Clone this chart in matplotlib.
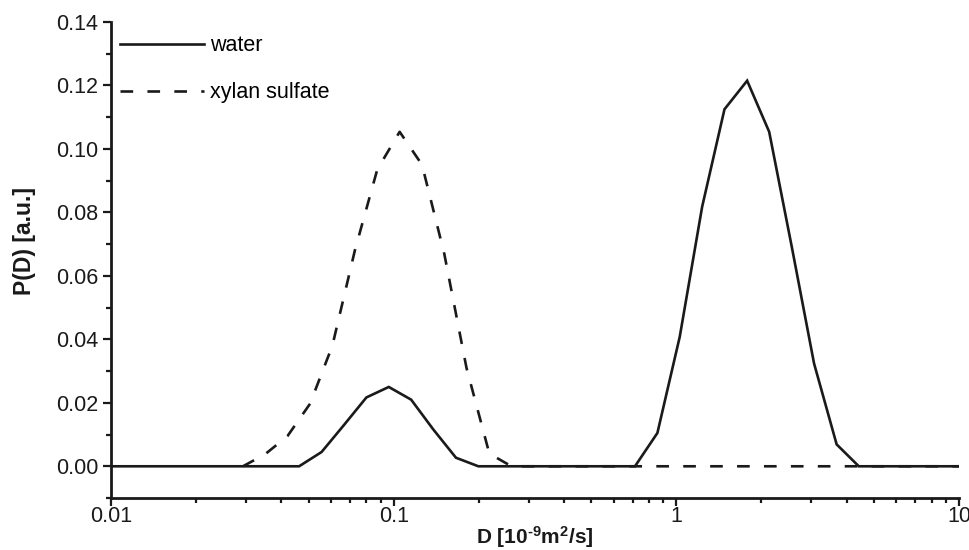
"""
Diffusion coefficient distribution P(D): water vs. xylan sulfate.
"""

import matplotlib
matplotlib.use("Agg")
import matplotlib.pyplot as plt
from matplotlib.ticker import FixedLocator, LogLocator, MultipleLocator, NullFormatter

plt.rcParams['font.family'] = ['Liberation Sans', 'DejaVu Sans']
plt.rcParams['mathtext.fontset'] = 'custom'
plt.rcParams['mathtext.rm'] = 'Liberation Sans:bold'
plt.rcParams['mathtext.it'] = 'Liberation Sans:bold'
plt.rcParams['mathtext.bf'] = 'Liberation Sans:bold'

# water: D [1e-9 m^2/s] and P(D)
water_d = [0.01, 0.0463, 0.0556, 0.0667, 0.0801, 0.0961, 0.1153, 0.1384, 0.1661,
           0.1993, 0.714, 0.857, 1.028, 1.234, 1.48, 1.78, 2.13, 2.56, 3.07,
           3.69, 4.42, 10.0]
water_p = [0.0, 0.0, 0.0045, 0.013, 0.0217, 0.025, 0.021, 0.0115, 0.0027,
           0.0, 0.0, 0.0105, 0.0408, 0.0818, 0.1125, 0.1215, 0.1054, 0.0692, 0.0324,
           0.0069, 0.0, 0.0]

# xylan sulfate
xylan_d = [0.0293, 0.0351, 0.0421, 0.0506, 0.0607, 0.0729, 0.0875, 0.105,
           0.126, 0.151, 0.181, 0.218, 0.261, 10.0]
xylan_p = [0.0, 0.0038, 0.0095, 0.0197, 0.038, 0.068, 0.0935, 0.1054,
           0.095, 0.067, 0.031, 0.004, 0.0, 0.0]

x_ticks = [0.01, 0.1, 1, 10]
x_tick_labels = ["0.01", "0.1", "1", "10"]
y_ticks = [0.00, 0.02, 0.04, 0.06, 0.08, 0.10, 0.12, 0.14]

fig = plt.figure(figsize=(9.7, 5.5), dpi=100)
ax = fig.add_axes([0.1144, 0.0945, 0.8743, 0.8655])

lw = 1.9
ax.plot(water_d, water_p, color='#1a1a1a', lw=lw, solid_joinstyle='miter',
        label='water')
ax.plot(xylan_d, xylan_p, color='#1a1a1a', lw=lw, ls=(0, (4.8, 5.4)),
        dash_capstyle='butt', label='xylan sulfate')

ax.set_xscale('log')
ax.set_xlim(0.01, 10)
ax.set_ylim(-0.01, 0.14)

ax.xaxis.set_major_locator(FixedLocator(x_ticks))
ax.set_xticklabels(x_tick_labels)
ax.xaxis.set_minor_locator(LogLocator(base=10, subs=range(2, 10)))
ax.xaxis.set_minor_formatter(NullFormatter())

ax.set_yticks(y_ticks)
ax.set_yticklabels([f"{v:.2f}" for v in y_ticks])
ax.yaxis.set_minor_locator(MultipleLocator(0.01))

for side in ('top', 'right'):
    ax.spines[side].set_visible(False)
for side in ('left', 'bottom'):
    ax.spines[side].set_linewidth(2.0)
    ax.spines[side].set_color('#1a1a1a')

ax.tick_params(which='major', direction='out', length=6, width=1.6,
               labelsize=15.5, colors='#1a1a1a')
ax.tick_params(which='minor', direction='out', length=3.4, width=1.6,
               colors='#1a1a1a')
ax.tick_params(axis='x', which='major', pad=0)
ax.tick_params(axis='y', which='major', pad=3)

ax.set_xlabel(r"D [10$^{\text{-9}}$m$^{2}$/s]", fontsize=15, fontweight='bold',
              labelpad=-2, color='#1a1a1a')
ax.set_ylabel("P(D) [a.u.]", fontsize=16.5, fontweight='bold',
              color='#1a1a1a')
ax.yaxis.set_label_coords(-0.088, 0.54)

ax.legend(loc='upper left', bbox_to_anchor=(0.0, 0.99), frameon=False,
          fontsize=15.5, handlelength=3.9, handletextpad=0.3, labelspacing=1.2,
          borderaxespad=0.0)

fig.savefig("out.png", dpi=100)
